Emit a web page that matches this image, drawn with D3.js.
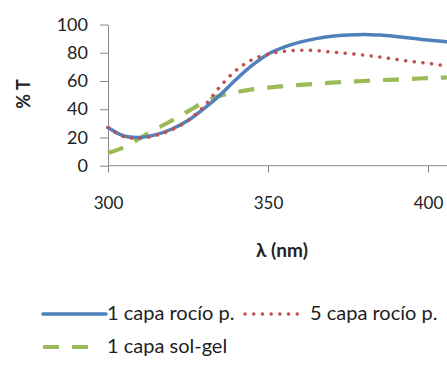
<!DOCTYPE html>
<html>
<head>
<meta charset="utf-8">
<script src="https://cdn.jsdelivr.net/npm/d3@7"></script>
<style>
  body { margin: 0; background: #fff; }
  svg { display: block; font-family: Lato, "Open Sans", sans-serif; }
</style>
</head>
<body>
<svg id="chart"></svg>
<script>
// wavelength (nm)
var wavelengths = [300, 305, 310, 315, 320, 325, 330, 335, 340, 345, 350, 355, 360, 365, 370, 375, 380, 385, 390, 395, 400, 405, 410];
var rocio1 = [27, 21, 20, 22, 26, 32, 40.5, 50, 61, 71, 79, 84, 87.5, 90, 91.7, 92.6, 93, 92.5, 91.5, 90.3, 89, 88, 87];
var rocio5 = [27, 20.5, 19.5, 21.5, 25.5, 32, 42, 56, 67.5, 75, 79, 81, 81.8, 81.5, 80.5, 79.5, 78.3, 77, 75.3, 73.8, 72.5, 71, 70];
var solgel = [9, 13, 19.5, 26, 32, 38.5, 45, 49.5, 52, 54, 55.3, 56.3, 57.2, 58, 58.8, 59.5, 60, 60.6, 61, 61.5, 62, 62.4, 62.8];
var seriesNames = ['1 capa rocío p.', '5 capa rocío p.', '1 capa sol-gel'];
var xTicks = [300, 350, 400];
var yTicks = [0, 20, 40, 60, 80, 100];

var svgWidth = 447,
    svgHeight = 366;

var svg = d3.select('#chart')
    .attr('width', svgWidth)
    .attr('height', svgHeight);

var x = d3.scaleLinear()
    .domain([300, 410])
    .range([108, 108 + 110 * 3.2]);

var y = d3.scaleLinear()
    .domain([0, 100])
    .range([165.7, 24.5]);

var axisColor = '#898989';

// y axis
var yAxis = svg.append('g')
    .attr('transform', 'translate(' + x(300) + ',0)')
    .call(d3.axisLeft(y).tickValues(yTicks).tickSize(8).tickPadding(12).tickSizeOuter(0));
yAxis.selectAll('line, path').attr('stroke', axisColor);
yAxis.selectAll('text')
    .attr('font-size', 18)
    .attr('font-family', 'Lato, sans-serif')
    .attr('fill', '#222');

// x axis
var xAxis = svg.append('g')
    .attr('transform', 'translate(0,' + y(0) + ')')
    .call(d3.axisBottom(x).tickValues(xTicks).tickSize(7).tickPadding(24).tickSizeOuter(0));
xAxis.select('.domain').attr('d', 'M' + x(300) + ',0H' + svgWidth);
xAxis.selectAll('line, path').attr('stroke', axisColor);
xAxis.selectAll('text')
    .attr('font-size', 17)
    .attr('font-family', 'Lato, sans-serif')
    .attr('fill', '#222');

// lines
var series = [
    {name: seriesNames[0], values: rocio1, color: '#4F81BD', width: 3.5, dash: null, cap: 'round'},
    {name: seriesNames[1], values: rocio5, color: '#C0504D', width: 3.5, dash: '0.1,8.6', cap: 'round'},
    {name: seriesNames[2], values: solgel, color: '#9BBB59', width: 4.2, dash: '16,13', cap: 'butt'}
];

var line = d3.line()
    .x(function (d) { return x(d[0]); })
    .y(function (d) { return y(d[1]); })
    .curve(d3.curveCatmullRom);

// draw order: sol-gel, 1 capa, 5 capa on top
[series[2], series[0], series[1]].forEach(function (s) {
    svg.append('path')
        .datum(d3.zip(wavelengths, s.values))
        .attr('fill', 'none')
        .attr('stroke', s.color)
        .attr('stroke-width', s.width)
        .attr('stroke-linecap', s.cap)
        .attr('stroke-dasharray', s.dash)
        .attr('d', line);
});

// axis titles
svg.append('text')
    .attr('x', 282)
    .attr('y', 257)
    .attr('text-anchor', 'middle')
    .attr('font-size', 19)
    .attr('font-weight', 'bold')
    .attr('fill', '#222')
    .text('λ (nm)');

svg.append('text')
    .attr('transform', 'translate(30,94) rotate(-90)')
    .attr('text-anchor', 'middle')
    .attr('font-size', 18)
    .attr('font-weight', 'bold')
    .attr('fill', '#222')
    .text('% T');

// legend
var legendPos = [
    {x1: 43, x2: 106, y: 314, tx: 107},
    {x1: 245, x2: 304, y: 314, tx: 310},
    {x1: 43, x2: 92, y: 347, tx: 107}
];
series.forEach(function (s, i) {
    var p = legendPos[i];
    svg.append('line')
        .attr('x1', p.x1).attr('x2', p.x2)
        .attr('y1', p.y).attr('y2', p.y)
        .attr('stroke', s.color)
        .attr('stroke-width', s.width)
        .attr('stroke-linecap', s.cap)
        .attr('stroke-dasharray', s.dash);
    svg.append('text')
        .attr('x', p.tx)
        .attr('y', p.y + 6)
        .attr('font-size', 20)
        .attr('fill', '#222')
        .text(s.name);
});
</script>
</body>
</html>
